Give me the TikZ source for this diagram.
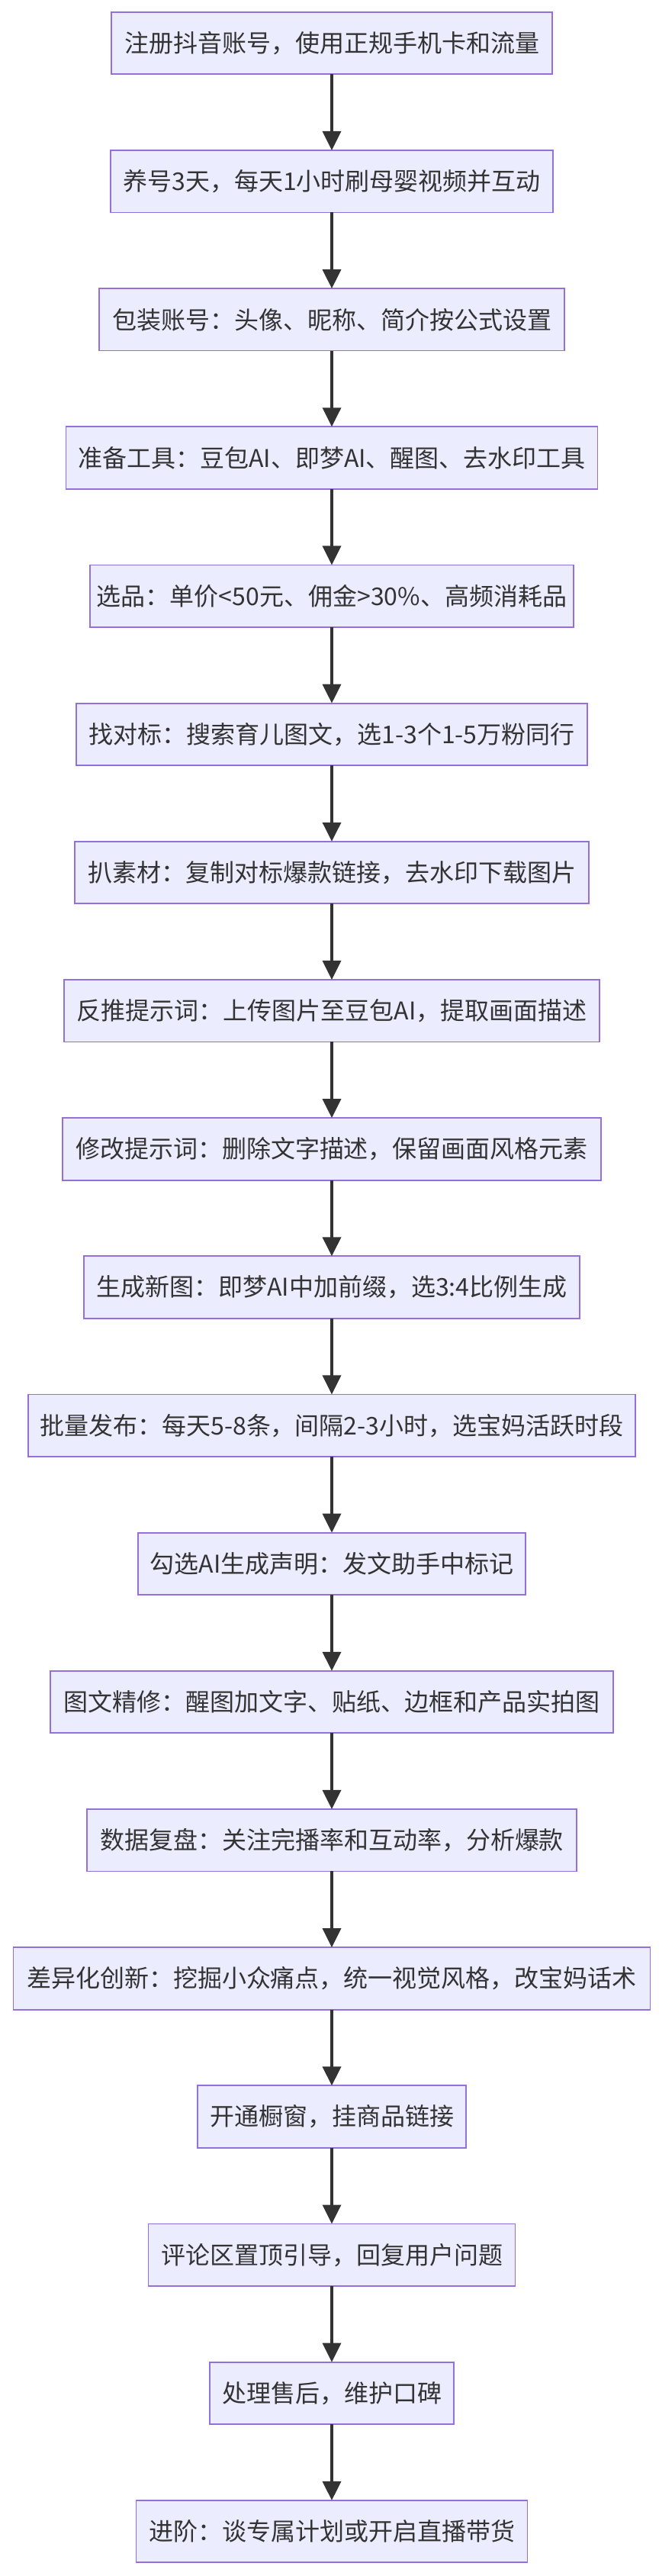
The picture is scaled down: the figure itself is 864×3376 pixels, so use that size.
\documentclass[tikz,border=0pt]{standalone}
\usepackage{fontspec}
\setmainfont{Noto Sans CJK SC}
\usetikzlibrary{arrows.meta}
\definecolor{boxfill}{HTML}{ECECFF}
\definecolor{boxline}{HTML}{9370DB}
\definecolor{ink}{HTML}{333333}
\tikzset{
  stepbox/.style={draw=boxline, fill=boxfill, line width=1.8pt, minimum height=81.5pt,
    inner sep=0pt, outer sep=0pt, text=ink, font=\fontsize{32pt}{38pt}\selectfont, align=center},
  flow/.style={draw=ink, line width=3.6pt, -{Triangle[length=25pt,width=24pt]}}
}
\begin{document}
\begin{tikzpicture}[x=1pt,y=1pt]
\useasboundingbox[fill=white] (0,0) rectangle (864,-3376);
\def\cx{435}
\node[stepbox, minimum width=577.5pt] (n1) at (\cx,-56.5) {注册抖音账号，使用正规手机卡和流量};
\node[stepbox, minimum width=580pt] (n2) at (\cx,-237.67) {养号3天，每天1小时刷母婴视频并互动};
\node[stepbox, minimum width=610pt] (n3) at (\cx,-418.84) {包装账号：头像、昵称、简介按公式设置};
\node[stepbox, minimum width=697pt] (n4) at (\cx,-600.01) {准备工具：豆包AI、即梦AI、醒图、去水印工具};
\node[stepbox, minimum width=634pt] (n5) at (\cx,-781.18) {选品：单价<50元、佣金>30\%、高频消耗品};
\node[stepbox, minimum width=670pt] (n6) at (\cx,-962.35) {找对标：搜索育儿图文，选1-3个1-5万粉同行};
\node[stepbox, minimum width=674pt] (n7) at (\cx,-1143.52) {扒素材：复制对标爆款链接，去水印下载图片};
\node[stepbox, minimum width=702pt] (n8) at (\cx,-1324.69) {反推提示词：上传图片至豆包AI，提取画面描述};
\node[stepbox, minimum width=706pt] (n9) at (\cx,-1505.86) {修改提示词：删除文字描述，保留画面风格元素};
\node[stepbox, minimum width=650pt] (n10) at (\cx,-1687.03) {生成新图：即梦AI中加前缀，选3:4比例生成};
\node[stepbox, minimum width=796.5pt] (n11) at (\cx,-1868.2) {批量发布：每天5-8条，间隔2-3小时，选宝妈活跃时段};
\node[stepbox, minimum width=508.5pt] (n12) at (\cx,-2049.37) {勾选AI生成声明：发文助手中标记};
\node[stepbox, minimum width=738pt] (n13) at (\cx,-2230.54) {图文精修：醒图加文字、贴纸、边框和产品实拍图};
\node[stepbox, minimum width=642pt] (n14) at (\cx,-2411.71) {数据复盘：关注完播率和互动率，分析爆款};
\node[stepbox, minimum width=835pt] (n15) at (\cx,-2592.88) {差异化创新：挖掘小众痛点，统一视觉风格，改宝妈话术};
\node[stepbox, minimum width=352.5pt] (n16) at (\cx,-2774.05) {开通橱窗，挂商品链接};
\node[stepbox, minimum width=481pt] (n17) at (\cx,-2955.22) {评论区置顶引导，回复用户问题};
\node[stepbox, minimum width=320pt] (n18) at (\cx,-3136.39) {处理售后，维护口碑};
\node[stepbox, minimum width=513pt] (n19) at (\cx,-3317.56) {进阶：谈专属计划或开启直播带货};
\foreach \a/\b in {n1/n2,n2/n3,n3/n4,n4/n5,n5/n6,n6/n7,n7/n8,n8/n9,n9/n10,n10/n11,n11/n12,n12/n13,n13/n14,n14/n15,n15/n16,n16/n17,n17/n18,n18/n19}
  \draw[flow] (\a.south) -- (\b.north);
\end{tikzpicture}
\end{document}
